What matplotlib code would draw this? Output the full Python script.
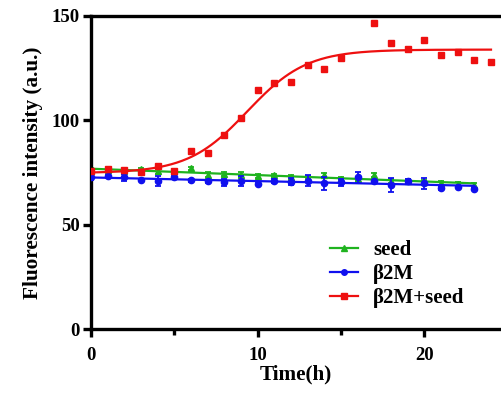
import numpy as np
import matplotlib
matplotlib.use('Agg')
import matplotlib.pyplot as plt
from matplotlib.ticker import MultipleLocator

# values
hours = np.arange(0, 25)

seed = [76.0, 76.0, 75.5, 76.5, 75.5, 75.5, 77.0, 74.0, 74.3, 74.0, 73.3, 73.6,
        73.0, 72.5, 73.8, 72.0, 72.0, 73.8, 71.0, 71.0, 70.5, 70.0, 69.5, 69.0]
seed_err = [1.0, 0.8, 1.0, 0.8, 1.0, 0.8, 0.8, 1.0, 0.8, 1.0, 0.8, 0.8,
            1.0, 0.8, 1.0, 0.8, 1.0, 0.8, 1.0, 0.8, 1.0, 0.8, 0.8, 0.8]

b2m = [72.7, 73.1, 72.7, 71.4, 71.1, 72.7, 71.2, 70.7, 70.3, 70.9, 69.5, 71.0,
       70.6, 71.0, 69.8, 70.3, 72.7, 70.7, 69.0, 71.0, 69.8, 67.4, 68.1, 67.1]
b2m_err = [1.2, 0.6, 1.7, 0.6, 2.4, 0.6, 0.6, 0.8, 1.6, 2.4, 0.6, 0.8,
           1.7, 2.6, 3.0, 1.7, 2.5, 0.8, 3.3, 0.8, 2.7, 0.6, 0.6, 0.6]

# no reading at 16 h
b2m_seed = [75.7, 76.8, 76.2, 75.1, 78.0, 75.9, 85.1, 84.3, 93.0, 101.0, 114.6, 117.7,
            118.3, 126.4, 124.6, 129.8, np.nan, 146.6, 137.0, 134.2, 138.6, 131.3,
            132.6, 129.0, 128.0]

green = '#1fb31f'
blue = '#1010ee'
red = '#ee1010'


def sigmoid_fit(t, y):
    # Boltzmann fit: grid over midpoint/slope, bottom/top by linear least squares
    t = np.asarray(t, float)
    y = np.asarray(y, float)
    ok = ~np.isnan(y)
    t, y = t[ok], y[ok]
    best = None
    for v50 in np.arange(5, 15, 0.02):
        for s in np.arange(0.3, 4, 0.02):
            f = 1.0 / (1.0 + np.exp((v50 - t) / s))
            A = np.column_stack([1 - f, f])
            coef, *_ = np.linalg.lstsq(A, y, rcond=None)
            err = np.sum((A @ coef - y) ** 2)
            if best is None or err < best[0]:
                best = (err, v50, s, coef)
    _, v50, s, (bot, top) = best
    return lambda x: bot + (top - bot) / (1.0 + np.exp((v50 - x) / s))


plt.rcParams['font.family'] = ['Liberation Serif', 'DejaVu Serif']
plt.rcParams['font.weight'] = 'bold'

fig = plt.figure(figsize=(5.01, 3.98), dpi=100)
ax = fig.add_axes([91 / 501, (398 - 329) / 398, (501 - 91) / 501, (329 - 16) / 398])

t23 = hours[:len(seed)]
tt = np.linspace(0, 23, 200)

# seed
p = np.polyfit(t23, seed, 1)
ax.plot(tt, np.polyval(p, tt), color=green, lw=1.6, zorder=2)
ax.errorbar(t23, seed, yerr=seed_err, fmt='^', color=green, ms=4.5,
            elinewidth=1.3, capsize=2.5, capthick=1.3, zorder=2)

# b2m
p = np.polyfit(t23, b2m, 1)
ax.plot(tt, np.polyval(p, tt), color=blue, lw=1.6, zorder=3)
ax.errorbar(t23, b2m, yerr=b2m_err, fmt='o', color=blue, ms=4.5,
            elinewidth=1.3, capsize=2.5, capthick=1.3, zorder=3)

# b2m + seed
fit = sigmoid_fit(hours, b2m_seed)
tt2 = np.linspace(0, 24, 300)
ax.plot(tt2, fit(tt2), color=red, lw=1.6, zorder=4)
ax.plot(hours, b2m_seed, 's', color=red, ms=4.5, zorder=4)

# legend handles
h1, = ax.plot([], [], '-^', color=green, lw=1.6, ms=4)
h2, = ax.plot([], [], '-o', color=blue, lw=1.6, ms=4)
h3, = ax.plot([], [], '-s', color=red, lw=1.6, ms=4)
ax.legend([h1, h2, h3], ['seed', 'β2M', 'β2M+seed'], frameon=False,
          loc='upper left', bbox_to_anchor=(330 / 501, 1 - 240 / 398),
          bbox_transform=fig.transFigure, borderpad=0, borderaxespad=0,
          handlelength=1.35, handletextpad=0.72, labelspacing=0.2,
          prop={'weight': 'bold', 'size': 15})

ax.set_xlim(0, 24.6)
ax.set_ylim(0, 150)
ax.xaxis.set_major_locator(MultipleLocator(10))
ax.xaxis.set_minor_locator(MultipleLocator(5))
ax.yaxis.set_major_locator(MultipleLocator(50))

for side in ['left', 'bottom', 'top']:
    ax.spines[side].set_linewidth(2.4)
ax.spines['right'].set_visible(False)
ax.tick_params(which='major', direction='out', length=6, width=2.4,
               labelsize=13.5, pad=2, top=False, right=False)
ax.tick_params(which='minor', direction='out', length=4, width=2.4,
               top=False, right=False)
ax.tick_params(axis='y', which='minor', left=False)
ax.tick_params(axis='x', pad=7)
for lab in ax.get_xticklabels() + ax.get_yticklabels():
    lab.set_fontweight('bold')

ax.set_xlabel('Time(h)', fontsize=15.3, fontweight='bold', labelpad=0)
ax.set_ylabel('Fluorescence intensity (a.u.)', fontsize=15.3, fontweight='bold', labelpad=6)

fig.savefig('out.png', dpi=100)
